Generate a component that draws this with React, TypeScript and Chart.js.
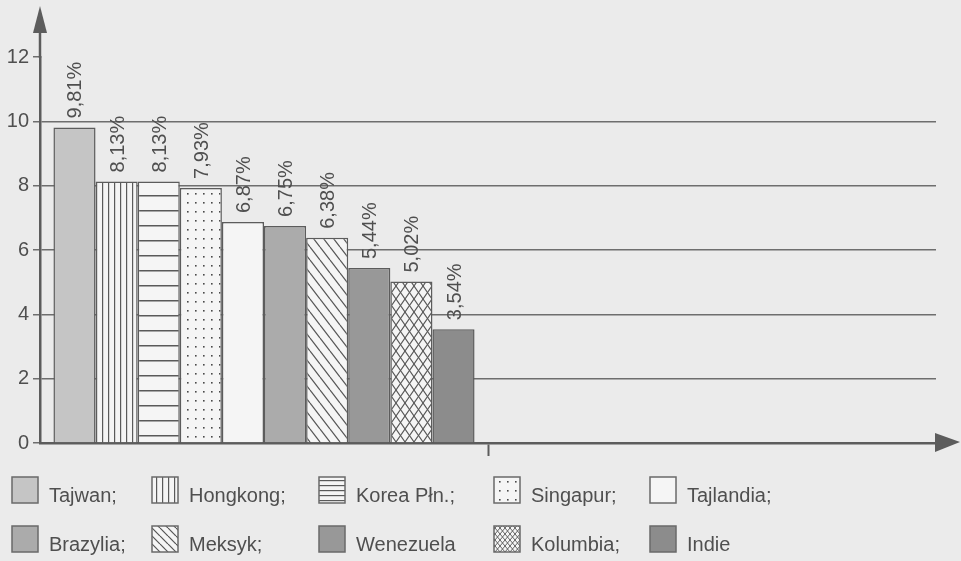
import React, { useEffect, useRef } from 'react';
import { Chart, registerables } from 'chart.js';

Chart.register(...registerables);

// ---- data ----
const categories = ['', ''];
const countries = ['Tajwan', 'Hongkong', 'Korea Płn.', 'Singapur', 'Tajlandia', 'Brazylia', 'Meksyk', 'Wenezuela', 'Kolumbia', 'Indie'];
const legendLabels = ['Tajwan;', 'Hongkong;', 'Korea Płn.;', 'Singapur;', 'Tajlandia;', 'Brazylia;', 'Meksyk;', 'Wenezuela', 'Kolumbia;', 'Indie'];
const growthValues = [9.81, 8.13, 8.13, 7.93, 6.87, 6.75, 6.38, 5.44, 5.02, 3.54];
const valueLabels = ['9,81%', '8,13%', '8,13%', '7,93%', '6,87%', '6,75%', '6,38%', '5,44%', '5,02%', '3,54%'];
const fillKinds = ['solidLight', 'vlines', 'hlines', 'dots', 'plain', 'solidMid', 'diag', 'solidDark', 'cross', 'solidDarker'];
const legendFillKinds = ['solidLight', 'vlines', 'hlinesDense', 'dots', 'plain', 'solidMid', 'diagSmall', 'solidDark', 'crossSmall', 'solidDarker'];

// ---- styles ----
const W = 961;
const H = 561;
const BG = '#ebebeb';
const HATCH_BG = '#f5f5f5';
const INK = '#5c5c5c';
const GRID = '#6e6e6e';
const TEXT = '#4f4f4f';
const FONT = '"Liberation Sans", Arial, Helvetica, sans-serif';

function makePattern(ctx: CanvasRenderingContext2D, w: number, h: number, draw: (g: CanvasRenderingContext2D) => void) {
  const c = document.createElement('canvas');
  c.width = w;
  c.height = h;
  const g = c.getContext('2d') as CanvasRenderingContext2D;
  g.fillStyle = HATCH_BG;
  g.fillRect(0, 0, w, h);
  draw(g);
  return ctx.createPattern(c, 'repeat') as CanvasPattern;
}

function diagTile(ctx: CanvasRenderingContext2D, w: number, h: number, both: boolean, lw: number) {
  return makePattern(ctx, w, h, (g) => {
    g.strokeStyle = '#555'; g.lineWidth = lw;
    for (const x of [-w, 0, w]) {
      g.beginPath(); g.moveTo(x, 0); g.lineTo(x + w, h); g.stroke();
      if (both) { g.beginPath(); g.moveTo(x, h); g.lineTo(x + w, 0); g.stroke(); }
    }
  });
}

function makeFill(ctx: CanvasRenderingContext2D, kind: string): string | CanvasPattern {
  switch (kind) {
    case 'solidLight': return '#c5c5c5';
    case 'solidMid': return '#ababab';
    case 'solidDark': return '#989898';
    case 'solidDarker': return '#8c8c8c';
    case 'plain': return HATCH_BG;
    case 'vlines':
      return makePattern(ctx, 6, 6, (g) => { g.fillStyle = '#5a5a5a'; g.fillRect(0, 0, 1.2, 6); });
    case 'hlines':
      return makePattern(ctx, 6, 15, (g) => { g.fillStyle = '#5a5a5a'; g.fillRect(0, 0, 6, 1.5); });
    case 'hlinesDense':
      return makePattern(ctx, 6, 5, (g) => { g.fillStyle = '#5a5a5a'; g.fillRect(0, 0, 6, 1.2); });
    case 'dots':
      return makePattern(ctx, 8, 9, (g) => { g.fillStyle = '#4a4a4a'; g.fillRect(3, 4, 1.6, 1.6); });
    case 'diag': return diagTile(ctx, 10, 13, false, 1.2);
    case 'diagSmall': return diagTile(ctx, 8, 8, false, 1.2);
    case 'cross': return diagTile(ctx, 9, 13, true, 1.1);
    case 'crossSmall': return diagTile(ctx, 5, 6, true, 0.9);
    default: return '#999';
  }
}

const backgroundPlugin = {
  id: 'paperBg',
  beforeDraw(chart: any) {
    const ctx = chart.ctx;
    ctx.save();
    ctx.fillStyle = BG;
    ctx.fillRect(0, 0, chart.width, chart.height);
    ctx.restore();
  },
};

const arrowsPlugin = {
  id: 'axisArrows',
  afterDraw(chart: any) {
    const { ctx, chartArea } = chart;
    const { left, top, right, bottom } = chartArea;
    ctx.save();
    ctx.strokeStyle = INK;
    ctx.fillStyle = INK;
    ctx.lineWidth = 2.5;
    ctx.beginPath(); ctx.moveTo(left, top + 1); ctx.lineTo(left, 24); ctx.stroke();
    ctx.beginPath(); ctx.moveTo(left, 6); ctx.lineTo(left - 7, 33); ctx.lineTo(left + 7, 33); ctx.closePath(); ctx.fill();
    ctx.beginPath(); ctx.moveTo(right - 1, bottom); ctx.lineTo(945, bottom); ctx.stroke();
    ctx.beginPath(); ctx.moveTo(960, bottom - 1); ctx.lineTo(935, bottom - 10); ctx.lineTo(935, bottom + 9); ctx.closePath(); ctx.fill();
    ctx.restore();
  },
};

const valueLabelPlugin = {
  id: 'valueLabels',
  afterDatasetsDraw(chart: any) {
    const ctx = chart.ctx;
    ctx.save();
    ctx.fillStyle = TEXT;
    ctx.font = `20px ${FONT}`;
    ctx.textAlign = 'left';
    ctx.textBaseline = 'alphabetic';
    chart.data.datasets.forEach((ds: any, i: number) => {
      const meta = chart.getDatasetMeta(i);
      const bar = meta.data[0];
      if (!bar || ds.data[0] == null) return;
      ctx.save();
      ctx.translate(bar.x, bar.y - 9);
      ctx.rotate(-Math.PI / 2);
      ctx.fillText(valueLabels[i], 0, 7);
      ctx.restore();
    });
    ctx.restore();
  },
};

const gridLegendPlugin = {
  id: 'gridLegend',
  afterDraw(chart: any) {
    const ctx = chart.ctx;
    const colX = [12, 152, 319, 494, 650];
    const rowTop = [477, 526];
    const box = 26;
    ctx.save();
    ctx.font = `20px ${FONT}`;
    ctx.textAlign = 'left';
    ctx.textBaseline = 'alphabetic';
    chart.data.datasets.forEach((ds: any, i: number) => {
      const col = i % 5;
      const row = Math.floor(i / 5);
      const x = colX[col];
      const y = rowTop[row];
      ctx.fillStyle = ds.legendFill || ds.backgroundColor;
      ctx.fillRect(x, y, box, box);
      ctx.strokeStyle = '#6a6a6a';
      ctx.lineWidth = 1.5;
      ctx.strokeRect(x, y, box, box);
      ctx.fillStyle = TEXT;
      ctx.fillText(legendLabels[i], x + 37, y + box - 1);
    });
    ctx.restore();
  },
};

export default function App() {
  const canvasRef = useRef<HTMLCanvasElement | null>(null);

  useEffect(() => {
    const canvas = canvasRef.current;
    if (!canvas) return;
    const ctx = canvas.getContext('2d') as CanvasRenderingContext2D;

    const datasets = countries.map((name, i) => ({
      label: name,
      data: [growthValues[i], null],
      backgroundColor: makeFill(ctx, fillKinds[i]),
      legendFill: makeFill(ctx, legendFillKinds[i]),
      borderColor: INK,
      borderWidth: 1.5,
      categoryPercentage: 0.94,
      barPercentage: 1,
    }));

    const chart = new Chart(canvas, {
      type: 'bar',
      data: { labels: categories, datasets: datasets as any },
      options: {
        animation: false,
        responsive: false,
        devicePixelRatio: 1,
        layout: { padding: { top: 57, right: 25, left: 0, bottom: 0 } },
        plugins: {
          legend: { display: false },
          tooltip: { enabled: false },
        },
        scales: {
          x: {
            type: 'category',
            grid: {
              offset: true,
              drawOnChartArea: false,
              drawTicks: true,
              tickLength: 13,
              tickWidth: 2,
              tickColor: (c: any) => (c.index === 1 ? INK : 'rgba(0,0,0,0)'),
            },
            border: { display: true, color: INK, width: 2.5 },
            ticks: { display: false },
            afterFit: (s: any) => { s.height = H - 443; },
          },
          y: {
            type: 'linear',
            min: 0,
            max: 12,
            ticks: {
              stepSize: 2,
              color: TEXT,
              font: { family: FONT, size: 20 },
              padding: 4,
            },
            grid: {
              color: (c: any) => (c.tick && (c.tick.value === 0 || c.tick.value === 12) ? 'rgba(0,0,0,0)' : GRID),
              lineWidth: 1.5,
              drawTicks: true,
              tickLength: 7,
              tickColor: GRID,
              tickWidth: 1.5,
            },
            border: { display: true, color: INK, width: 2.5 },
            afterFit: (s: any) => { s.width = 40; },
          },
        },
      },
      plugins: [backgroundPlugin, valueLabelPlugin, arrowsPlugin, gridLegendPlugin],
    });

    return () => chart.destroy();
  }, []);

  return (
    <div style={{ position: 'absolute', left: 0, top: 0, width: W, height: H, background: BG }}>
      <canvas ref={canvasRef} width={W} height={H} style={{ display: 'block', width: W, height: H }} />
    </div>
  );
}
